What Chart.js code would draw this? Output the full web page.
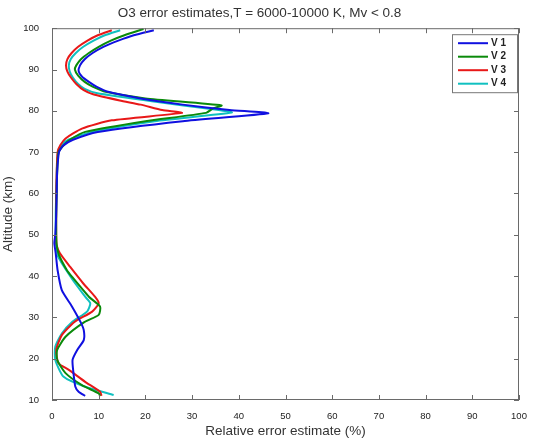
<!DOCTYPE html>
<html>
<head>
<meta charset="utf-8">
<script src="https://cdn.jsdelivr.net/npm/chart.js@4/dist/chart.umd.min.js"></script>
<style>
  html, body { margin: 0; padding: 0; background: #fff; }
  #wrap { width: 534px; height: 439px; }
</style>
</head>
<body>
<div id="wrap"><canvas id="errChart" width="534" height="439"></canvas></div>
<script>
// altitude (km) and relative error (%), one pair of arrays per series
const v1Alt = [99.5, 98.3, 97.0, 95.5, 94.0, 92.5, 91.0, 89.6, 88.3, 87.0, 85.8, 84.6, 83.0, 81.5, 80.2, 79.4, 77.5, 74.9, 73.0, 71.5, 70, 65, 60, 55, 50, 48, 45.5, 41.4, 36.6, 32.6, 28.9, 26.9, 24.5, 22.1, 19.7, 16.5, 13.2, 12.0, 11.0];
const v1Err = [21.8, 17.5, 14.2, 11.0, 8.7, 7.0, 6.0, 5.7, 6.4, 7.9, 9.6, 12.0, 19.0, 28.0, 38.0, 46.3, 28.0, 9.8, 4.5, 2.3, 1.5, 1.1, 1.0, 0.9, 0.7, 0.5, 0.8, 1.2, 2.1, 4.3, 6.1, 6.8, 6.8, 5.4, 4.4, 4.6, 5.0, 5.7, 7.1];

const v2Alt = [99.8, 98.3, 97.0, 95.5, 94.0, 92.5, 91.0, 90.0, 88.5, 87.0, 85.8, 84.6, 83.0, 81.3, 80.6, 79.5, 77.5, 74.9, 73.0, 71.8, 70, 65, 60, 55, 50, 47.5, 45.1, 41.4, 39.8, 35.0, 32.6, 30.6, 28.9, 25.3, 22.1, 19.7, 16.5, 13.6, 11.6, 11.0];
const v2Err = [19.6, 15.5, 12.6, 10.0, 7.9, 6.2, 5.2, 4.9, 5.6, 7.0, 8.8, 11.5, 20.0, 36.3, 34.5, 33.0, 20.0, 7.1, 3.8, 2.6, 1.4, 1.1, 1.0, 0.9, 0.9, 1.0, 1.5, 3.2, 4.3, 7.9, 10.3, 10.0, 7.0, 2.9, 1.1, 1.1, 2.9, 6.4, 10.0, 10.3];

const v3Alt = [99.5, 98.3, 97.0, 95.5, 94.0, 92.5, 91.0, 89.5, 88.0, 86.5, 85.0, 84.0, 82.5, 81.5, 80.2, 79.5, 77.7, 75.7, 73.3, 71.7, 70, 65, 60, 55, 50, 47.5, 45.5, 42.2, 38.2, 35.0, 33.4, 31.4, 28.9, 25.7, 22.1, 18.9, 17.3, 14.4, 12.0, 11.0];
const v3Err = [12.8, 9.8, 7.6, 5.6, 4.2, 3.3, 3.0, 3.3, 4.1, 5.2, 6.8, 8.8, 14.5, 19.0, 23.6, 27.8, 12.8, 6.4, 2.9, 1.8, 1.2, 1.0, 0.9, 0.9, 0.9, 1.0, 1.7, 3.9, 6.7, 9.2, 10.0, 8.6, 4.8, 2.1, 0.9, 1.4, 3.6, 7.1, 10.3, 10.6];

const v4Alt = [99.5, 98.3, 97.0, 95.5, 94.0, 92.5, 91.0, 89.5, 88.0, 86.5, 85.3, 84.3, 82.3, 80.2, 79.6, 77.5, 74.9, 73.0, 71.7, 70, 65, 60, 55, 50, 47.5, 44.7, 39.3, 35.0, 33.4, 31.4, 28.9, 26.1, 22.9, 19.7, 15.6, 13.2, 11.2];
const v4Err = [14.6, 11.3, 8.9, 6.7, 5.1, 4.0, 3.6, 3.8, 4.5, 5.6, 7.0, 9.5, 21.4, 35.7, 38.5, 22.0, 8.6, 3.5, 2.0, 1.3, 1.0, 0.9, 0.8, 0.8, 0.9, 1.3, 4.3, 7.1, 8.2, 7.5, 4.3, 2.1, 0.7, 0.7, 2.5, 7.1, 13.2];

const seriesNames = ["V 1", "V 2", "V 3", "V 4"];
const seriesColors = ["#1010e0", "#0a8a0a", "#e81818", "#10c0c0"];
const xTicks = [0, 10, 20, 30, 40, 50, 60, 70, 80, 90, 100];
const yTicks = [10, 20, 30, 40, 50, 60, 70, 80, 90, 100];

function toPoints(alt, err) {
  return alt.map((a, i) => ({ x: err[i], y: a }));
}

const allSeries = [[v1Alt, v1Err], [v2Alt, v2Err], [v3Alt, v3Err], [v4Alt, v4Err]];

// matlab-like box, inward ticks and legend inside the axes
const framePlugin = {
  id: "frame",
  afterDatasetsDraw(chart) {
    const { ctx, chartArea: a, scales } = chart;
    ctx.save();
    ctx.strokeStyle = "#6a6a6a";
    ctx.lineWidth = 1;
    ctx.strokeRect(a.left + 0.5, a.top + 0.5, a.right - a.left - 1, a.bottom - a.top - 1);
    ctx.beginPath();
    xTicks.forEach(v => {
      const px = Math.round(scales.x.getPixelForValue(v)) + 0.5;
      ctx.moveTo(px, a.bottom); ctx.lineTo(px, a.bottom - 5);
      ctx.moveTo(px, a.top); ctx.lineTo(px, a.top + 5);
    });
    yTicks.forEach(v => {
      const py = Math.round(scales.y.getPixelForValue(v)) + 0.5;
      ctx.moveTo(a.left, py); ctx.lineTo(a.left + 5, py);
      ctx.moveTo(a.right, py); ctx.lineTo(a.right - 5, py);
    });
    ctx.stroke();

    // legend
    const bx = a.right - 67, by = a.top + 6, bw = 65, bh = 58;
    ctx.fillStyle = "#fff";
    ctx.fillRect(bx, by, bw, bh);
    ctx.strokeStyle = "#777";
    ctx.strokeRect(bx + 0.5, by + 0.5, bw, bh);
    ctx.font = "bold 10px 'Liberation Sans', Arial, sans-serif";
    ctx.textBaseline = "middle";
    chart.data.datasets.forEach((ds, i) => {
      const ry = by + 9 + i * 13.5;
      ctx.strokeStyle = ds.borderColor;
      ctx.lineWidth = 2;
      ctx.beginPath();
      ctx.moveTo(bx + 6, ry); ctx.lineTo(bx + 36, ry);
      ctx.stroke();
      ctx.fillStyle = "#222";
      ctx.fillText(ds.label, bx + 39, ry);
    });
    ctx.restore();
  }
};

function createChart() {
  const ctx = document.getElementById("errChart");
  new Chart(ctx, {
    type: "scatter",
    data: {
      datasets: allSeries.map((s, i) => ({
        label: seriesNames[i],
        data: toPoints(s[0], s[1]),
        showLine: true,
        borderColor: seriesColors[i],
        backgroundColor: seriesColors[i],
        borderWidth: 2,
        pointRadius: 0,
        tension: 0.2
      }))
    },
    options: {
      responsive: false,
      animation: false,
      layout: { padding: { top: 0, right: 15, bottom: 0, left: 0 } },
      plugins: {
        legend: { display: false },
        tooltip: { enabled: false },
        title: {
          display: true,
          text: "O3 error estimates,T = 6000-10000 K, Mv < 0.8",
          color: "#333",
          font: { family: "'Liberation Sans', Arial, sans-serif", size: 13.5, weight: "normal" },
          padding: { top: 5, bottom: 7 }
        }
      },
      scales: {
        x: {
          type: "linear",
          min: 0,
          max: 100,
          afterFit(scale) { scale.height = 39; },
          afterBuildTicks(scale) { scale.ticks = xTicks.map(v => ({ value: v })); },
          grid: { display: false },
          border: { display: false },
          ticks: {
            color: "#222",
            padding: 3,
            font: { family: "'Liberation Sans', Arial, sans-serif", size: 9.5 }
          },
          title: {
            display: true,
            text: "Relative error estimate (%)",
            color: "#333",
            padding: { top: 1, bottom: 0 },
            font: { family: "'Liberation Sans', Arial, sans-serif", size: 13.5 }
          }
        },
        y: {
          type: "linear",
          min: 10,
          max: 100,
          afterFit(scale) { scale.width = 52; },
          afterBuildTicks(scale) { scale.ticks = yTicks.map(v => ({ value: v })); },
          grid: { display: false },
          border: { display: false },
          ticks: {
            color: "#222",
            padding: 5,
            font: { family: "'Liberation Sans', Arial, sans-serif", size: 9.5 }
          },
          title: {
            display: true,
            text: "Altitude (km)",
            color: "#333",
            padding: { top: 0, bottom: 4 },
            font: { family: "'Liberation Sans', Arial, sans-serif", size: 13.5 }
          }
        }
      }
    },
    plugins: [framePlugin]
  });
}

document.addEventListener("DOMContentLoaded", createChart);
</script>
</body>
</html>
